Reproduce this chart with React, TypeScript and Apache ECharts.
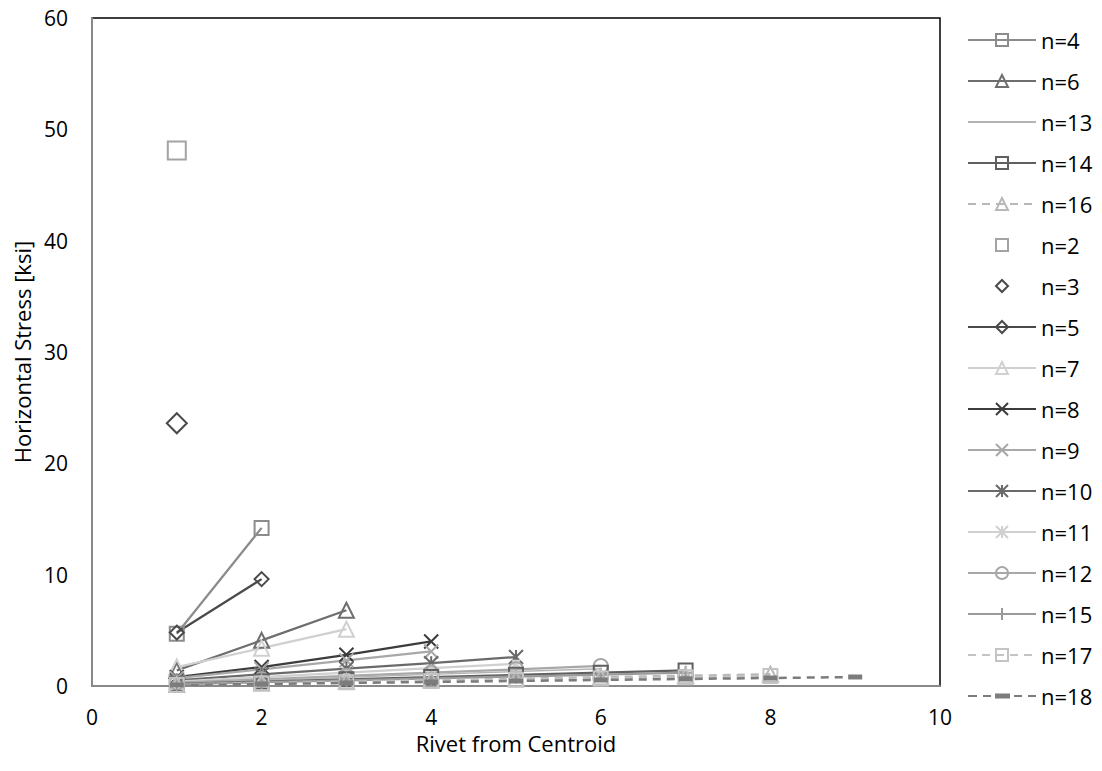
import React, { useEffect, useRef } from "react";
import * as echarts from "echarts";

const xTicks = [0, 2, 4, 6, 8, 10];
const yTicks = [0, 10, 20, 30, 40, 50, 60];

const legendOrder = ["n=4", "n=6", "n=13", "n=14", "n=16", "n=2", "n=3", "n=5", "n=7", "n=8", "n=9", "n=10", "n=11", "n=12", "n=15", "n=17", "n=18"];

const n2 = [48.1];
const n3 = [23.6];
const n4 = [4.7, 14.2];
const n5 = [4.8, 9.6];
const n6 = [1.4, 4.1, 6.8];
const n7 = [1.7, 3.4, 5.1];
const n8 = [0.8, 1.7, 2.8, 4.0];
const n9 = [0.7, 1.5, 2.3, 3.1];
const n10 = [0.5, 1.05, 1.55, 2.05, 2.6];
const n11 = [0.4, 0.8, 1.2, 1.6, 2.0];
const n12 = [0.3, 0.6, 0.9, 1.2, 1.5, 1.8];
const n13 = [0.26, 0.52, 0.78, 1.04, 1.3, 1.55];
const n14 = [0.2, 0.4, 0.6, 0.8, 1.0, 1.2, 1.4];
const n15 = [0.17, 0.34, 0.51, 0.68, 0.85, 1.02, 1.2];
const n16 = [0.13, 0.26, 0.4, 0.53, 0.66, 0.8, 0.93, 1.06];
const n17 = [0.11, 0.22, 0.34, 0.45, 0.56, 0.67, 0.78, 0.9];
const n18 = [0.09, 0.18, 0.27, 0.36, 0.45, 0.54, 0.63, 0.72, 0.81];

const X_PATH = "path://M0,0 L10,10 M10,0 L0,10";
const STAR_PATH = "path://M5,0 L5,10 M0,0 L10,10 M10,0 L0,10";
const PLUS_PATH = "path://M5,0 L5,10 M0,5 L10,5";
const BAR_PATH = "path://M0,0 L14,0 L14,5 L0,5 Z";
const BAR_LEGEND =
  "path://M0,0 L0.01,0 L0,0.01 Z M0,6.5 L9,6.5 L9,8.5 L0,8.5 Z M15,6.5 L23,6.5 L23,8.5 L15,8.5 Z M27,5 L42,5 L42,10 L27,10 Z M46,6.5 L54,6.5 L54,8.5 L46,8.5 Z M60,6.5 L68,6.5 L68,8.5 L60,8.5 Z M68,15 L67.99,15 L68,14.99 Z";

type Spec = {
  name: string;
  values: number[];
  color: string;
  symbol: string;
  size: number | number[];
  line: boolean;
  width?: number;
  dashed?: boolean;
  filled?: boolean;
};

const specs: Spec[] = [
  { name: "n=2", values: n2, color: "#a3a3a3", symbol: "rect", size: 18, line: false },
  { name: "n=3", values: n3, color: "#4a4a4a", symbol: "diamond", size: 20, line: false },
  { name: "n=4", values: n4, color: "#8c8c8c", symbol: "rect", size: 14, line: true },
  { name: "n=5", values: n5, color: "#4a4a4a", symbol: "diamond", size: 14, line: true },
  { name: "n=6", values: n6, color: "#6e6e6e", symbol: "triangle", size: 15, line: true },
  { name: "n=7", values: n7, color: "#d0d0d0", symbol: "triangle", size: 15, line: true },
  { name: "n=8", values: n8, color: "#3c3c3c", symbol: X_PATH, size: 14, line: true },
  { name: "n=9", values: n9, color: "#a8a8a8", symbol: X_PATH, size: 14, line: true },
  { name: "n=10", values: n10, color: "#6a6a6a", symbol: STAR_PATH, size: 14, line: true },
  { name: "n=11", values: n11, color: "#d0d0d0", symbol: STAR_PATH, size: 8, line: true },
  { name: "n=12", values: n12, color: "#a8a8a8", symbol: "circle", size: 14, line: true },
  { name: "n=13", values: n13, color: "#b4b4b4", symbol: "none", size: 0, line: true, width: 1.4 },
  { name: "n=14", values: n14, color: "#5f5f5f", symbol: "rect", size: 14, line: true },
  { name: "n=15", values: n15, color: "#9a9a9a", symbol: PLUS_PATH, size: 14, line: true },
  { name: "n=16", values: n16, color: "#b8b8b8", symbol: "triangle", size: 15, line: true, dashed: true },
  { name: "n=17", values: n17, color: "#c4c4c4", symbol: "rect", size: 14, line: true, dashed: true },
  { name: "n=18", values: n18, color: "#7c7c7c", symbol: BAR_PATH, size: [14, 5], line: true, dashed: true, filled: true, width: 2.5 },
];

const FONT = "'Open Sans', 'Liberation Sans', sans-serif";

export default function App() {
  const ref = useRef<HTMLDivElement>(null);
  useEffect(() => {
    if (!ref.current) return;
    const chart = echarts.init(ref.current, null, { renderer: "svg" });
    const series = specs.map((s) => ({
      name: s.name,
      type: "line",
      data: s.values.map((v, i) => [i + 1, v]),
      symbol: s.symbol,
      symbolSize: s.size,
      showSymbol: s.symbol !== "none",
      itemStyle: {
        color: s.filled ? s.color : "none",
        borderColor: s.color,
        borderWidth: s.filled ? 0 : 2,
      },
      lineStyle: {
        color: s.color,
        width: s.width ?? 2.25,
        type: s.dashed ? [8, 6] : "solid",
        opacity: s.line ? 1 : 0,
      },
      emphasis: { disabled: true },
      z: 2,
    }));
    const legendData = legendOrder.map((name) => {
      if (name === "n=13") return { name, itemStyle: { opacity: 0 } };
      if (name === "n=18") return { name, icon: BAR_LEGEND, itemStyle: { color: "#7c7c7c", borderWidth: 0 } };
      return { name };
    });
    chart.setOption({
      animation: false,
      textStyle: { fontFamily: FONT },
      grid: {
        left: 92,
        right: 162,
        top: 18,
        bottom: 85,
        show: true,
        borderColor: "#000",
        borderWidth: 1.5,
        backgroundColor: "transparent",
      },
      legend: {
        orient: "vertical",
        left: 962,
        top: 24,
        data: legendData,
        itemWidth: 68,
        itemHeight: 15,
        itemGap: 19,
        textStyle: { fontFamily: FONT, fontSize: 22, color: "#000", lineHeight: 21 },
        selectedMode: false,
      },
      xAxis: {
        type: "value",
        min: xTicks[0],
        max: xTicks[xTicks.length - 1],
        interval: 2,
        name: "Rivet from Centroid",
        nameLocation: "middle",
        nameGap: 46,
        nameTextStyle: { fontFamily: FONT, fontSize: 22, color: "#000" },
        axisLine: { lineStyle: { color: "#898989", width: 2 } },
        axisTick: { show: false },
        splitLine: { show: false },
        axisLabel: { fontFamily: FONT, fontSize: 21, color: "#000", margin: 20 },
      },
      yAxis: {
        type: "value",
        min: yTicks[0],
        max: yTicks[yTicks.length - 1],
        interval: 10,
        name: "Horizontal Stress [ksi]",
        nameLocation: "middle",
        nameGap: 58,
        nameTextStyle: { fontFamily: FONT, fontSize: 22, color: "#000" },
        axisLine: { show: true, lineStyle: { color: "#898989", width: 2 } },
        axisTick: { show: false },
        splitLine: { show: false },
        axisLabel: { fontFamily: FONT, fontSize: 21, color: "#000", margin: 24 },
      },
      series,
    });
    return () => chart.dispose();
  }, []);
  return (
    <div
      ref={ref}
      style={{ position: "fixed", left: 0, top: 0, width: 1102, height: 771, background: "#fff" }}
    />
  );
}
